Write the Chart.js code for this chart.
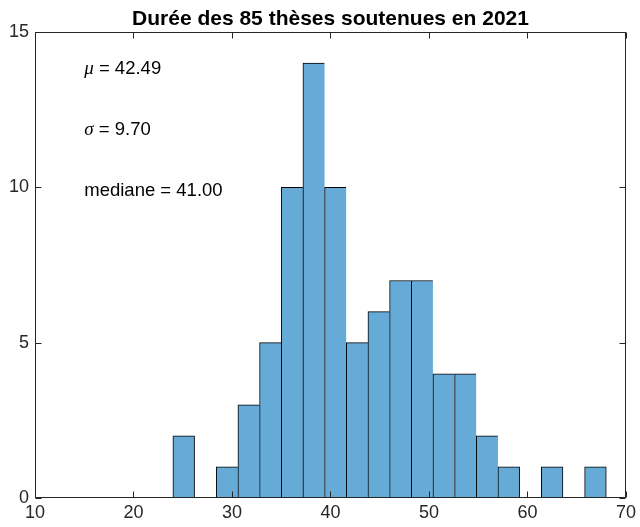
<!DOCTYPE html>
<html>
<head>
<meta charset="utf-8">
<script src="https://cdn.jsdelivr.net/npm/chart.js@4/dist/chart.umd.min.js"></script>
<style>
html,body{margin:0;padding:0;background:#fff;}
canvas{display:block;}
</style>
</head>
<body>
<canvas id="c" width="640" height="527"></canvas>
<script>
// ---- data ----
const titleText = 'Durée des 85 thèses soutenues en 2021';
const binCenters = [25.1, 27.3, 29.5, 31.7, 33.9, 36.1, 38.3, 40.5, 42.7, 44.9,
                    47.1, 49.3, 51.5, 53.7, 55.9, 58.1, 60.3, 62.5, 64.7, 66.9];
const counts     = [2, 0, 1, 3, 5, 10, 14, 10, 5, 6,
                    7, 7, 4, 4, 2, 1, 0, 1, 0, 1];
const xTicks = [10, 20, 30, 40, 50, 60, 70];
const yTicks = [0, 5, 10, 15];
const annotSymbols = ['\u03BC', '\u03C3', ''];
const annotTexts   = [' = 42.49', ' = 9.70', 'mediane = 41.00'];
const annotY       = [13.8, 11.85, 9.9];
const annotX       = 15;

const AX = '#262626';
const FONT = '"Liberation Sans", Arial, Helvetica, sans-serif';

const boxPlugin = {
  id: 'boxPlugin',
  afterDatasetsDraw(chart) {
    const {ctx, chartArea: a, scales: {x, y}} = chart;
    ctx.save();
    // annotations
    ctx.fillStyle = '#000';
    ctx.textBaseline = 'middle';
    ctx.textAlign = 'left';
    annotSymbols.forEach((s, i) => {
      let px = x.getPixelForValue(annotX);
      const py = y.getPixelForValue(annotY[i]);
      if (s) {
        ctx.font = 'italic 19px "Liberation Serif", "Times New Roman", serif';
        ctx.fillText(s, px, py);
        px += ctx.measureText(s).width;
      }
      ctx.font = '18.5px ' + FONT;
      ctx.fillText(annotTexts[i], px, py);
    });
    // ticks inward
    ctx.strokeStyle = AX;
    ctx.lineWidth = 1;
    const L = Math.round(a.left) + 0.5, R = Math.round(a.right) - 0.5;
    const T = Math.round(a.top) + 0.5, B = Math.round(a.bottom) - 0.5;
    ctx.beginPath();
    xTicks.forEach(v => {
      const px = Math.round(x.getPixelForValue(v)) + 0.5;
      ctx.moveTo(px, B); ctx.lineTo(px, B - 6);
      ctx.moveTo(px, T); ctx.lineTo(px, T + 6);
    });
    yTicks.forEach(v => {
      const py = Math.round(y.getPixelForValue(v)) + 0.5;
      ctx.moveTo(L, py); ctx.lineTo(L + 6, py);
      ctx.moveTo(R, py); ctx.lineTo(R - 6, py);
    });
    ctx.stroke();
    // box
    ctx.strokeRect(L, T, R - L, B - T);
    // title
    ctx.fillStyle = '#000';
    ctx.font = 'bold 21px ' + FONT;
    ctx.textAlign = 'center';
    ctx.textBaseline = 'alphabetic';
    ctx.fillText(titleText, (a.left + a.right) / 2, 25);
    ctx.restore();
  }
};

new Chart(document.getElementById('c'), {
  type: 'bar',
  data: {
    datasets: [{
      data: binCenters.map((c, i) => ({x: c, y: counts[i]})),
      backgroundColor: 'rgb(102,170,215)',
      borderColor: '#000',
      borderSkipped: false,
      borderWidth: ctx => {
        const i = ctx.dataIndex;
        const next = counts[i + 1];
        return {top: 1, left: 1, bottom: 0, right: (next === undefined || next === 0) ? 1 : 0};
      },
      barPercentage: 1,
      categoryPercentage: 1
    }]
  },
  options: {
    responsive: false,
    animation: false,
    layout: {padding: {top: 32, right: 14, left: 0, bottom: 0}},
    plugins: {legend: {display: false}, title: {display: false}, tooltip: {enabled: false}},
    scales: {
      x: {
        type: 'linear',
        min: 10, max: 70,
        offset: false,
        grid: {display: false, drawTicks: false, offset: false},
        border: {display: false},
        afterBuildTicks: s => { s.ticks = xTicks.map(v => ({value: v})); },
        afterFit: s => { s.height = 29; },
        ticks: {padding: 4, color: AX, font: {family: FONT, size: 18}, maxRotation: 0, autoSkip: false}
      },
      y: {
        min: 0, max: 15,
        grid: {display: false, drawTicks: false},
        border: {display: false},
        afterBuildTicks: s => { s.ticks = yTicks.map(v => ({value: v})); },
        afterFit: s => { s.width = 35; },
        ticks: {padding: 6, color: AX, font: {family: FONT, size: 18}}
      }
    }
  },
  plugins: [boxPlugin]
});
</script>
</body>
</html>
